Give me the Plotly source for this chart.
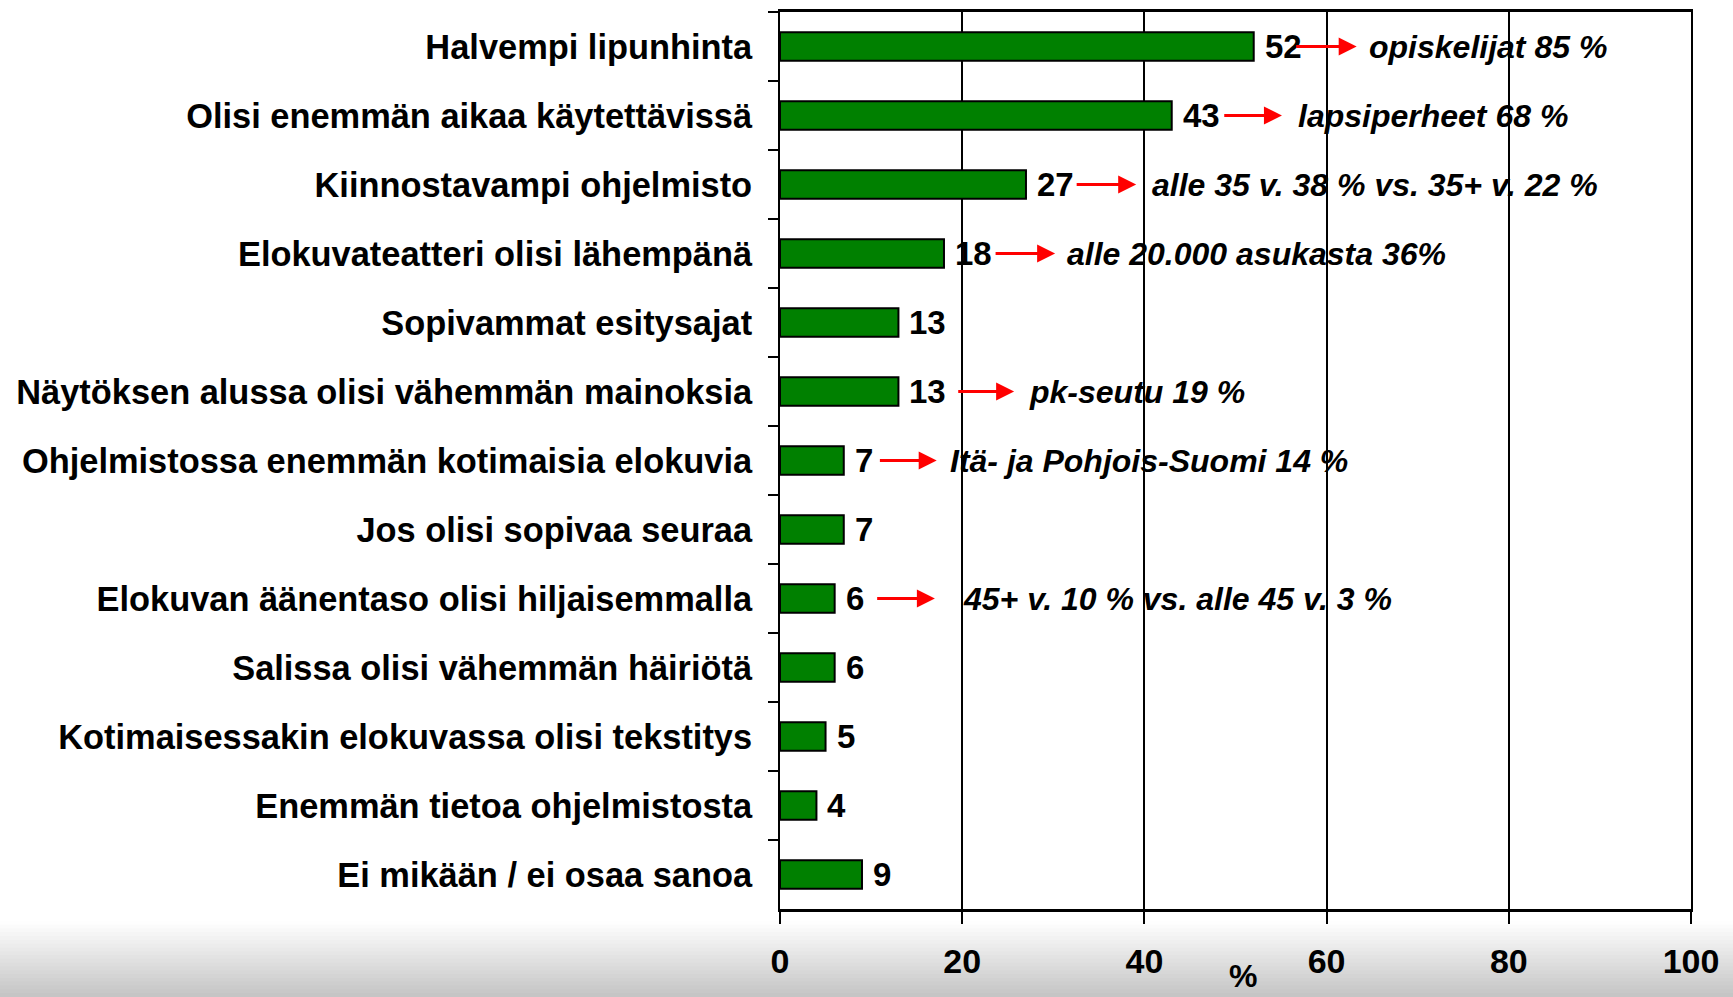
import plotly.graph_objects as go

categories = [
    "Halvempi lipunhinta",
    "Olisi enemmän aikaa käytettävissä",
    "Kiinnostavampi ohjelmisto",
    "Elokuvateatteri olisi lähempänä",
    "Sopivammat esitysajat",
    "Näytöksen alussa olisi vähemmän mainoksia",
    "Ohjelmistossa enemmän kotimaisia elokuvia",
    "Jos olisi sopivaa seuraa",
    "Elokuvan äänentaso olisi hiljaisemmalla",
    "Salissa olisi vähemmän häiriötä",
    "Kotimaisessakin elokuvassa olisi tekstitys",
    "Enemmän tietoa ohjelmistosta",
    "Ei mikään / ei osaa sanoa",
]
values = [52, 43, 27, 18, 13, 13, 7, 7, 6, 6, 5, 4, 9]

# subgroup notes: (category index, note text)
note_rows = [0, 1, 2, 3, 5, 6, 8]
note_texts = [
    "opiskelijat 85 %",
    "lapsiperheet 68 %",
    "alle 35 v. 38 % vs. 35+ v. 22 %",
    "alle 20.000 asukasta 36%",
    "pk-seutu 19 %",
    "Itä- ja Pohjois-Suomi 14 %",
    "45+ v. 10 % vs. alle 45 v. 3 %",
]
x_ticks = [0, 20, 40, 60, 80, 100]

# layout helpers (arrow tail, arrow head, note text start) in axis units
arrow_tail = [56.5, 48.6, 32.4, 23.5, 19.4, 10.8, 10.5]
arrow_head = [63.3, 55.1, 39.1, 30.2, 25.7, 17.2, 17.0]
note_start = [64.4, 56.6, 40.6, 31.3, 27.1, 18.4, 19.9]

FONT = "Liberation Sans, Arial, sans-serif"

fig = go.Figure()
fig.add_trace(go.Bar(
    x=values, y=categories, orientation="h",
    marker=dict(color="#008000", line=dict(color="#000000", width=2)),
    width=0.41, hoverinfo="x+y",
))

annotations = []
for c, v in zip(categories, values):
    annotations.append(dict(
        x=v, y=c, xref="x", yref="y", text=str(v), showarrow=False,
        xanchor="left", yanchor="middle", xshift=9,
        font=dict(family=FONT, size=33, color="#000000", weight="bold"),
    ))
for r, t, a0, a1, s in zip(note_rows, note_texts, arrow_tail, arrow_head, note_start):
    annotations.append(dict(
        x=a1, y=categories[r], ax=a0, ay=categories[r], xref="x", yref="y",
        axref="x", ayref="y", text="", showarrow=True,
        arrowhead=2, arrowsize=1.2, arrowwidth=3, arrowcolor="#ff0000",
        standoff=0, startstandoff=0,
    ))
    annotations.append(dict(
        x=s, y=categories[r], xref="x", yref="y", text=t, showarrow=False,
        xanchor="left", yanchor="middle",
        font=dict(family=FONT, size=32, color="#000000", weight="bold", style="italic"),
    ))
annotations.append(dict(
    x=50.8, y=-0.075, xref="x", yref="paper", text="%", showarrow=False,
    xanchor="center", yanchor="middle",
    font=dict(family=FONT, size=32, color="#000000", weight="bold"),
))

# slide background gradient at the bottom
shapes = []
n = 20
y_top_px, y_bot_px = 921, 997
for i in range(n):
    y0 = y_top_px + (y_bot_px - y_top_px) * i / n
    y1 = y_top_px + (y_bot_px - y_top_px) * (i + 1) / n + 1
    g = int(round(255 - (255 - 196) * ((i + 0.5) / n)))
    shapes.append(dict(
        type="rect", xref="paper", yref="paper",
        x0=-780 / 911, x1=(1733 - 780) / 911,
        y0=-(y0 - 909) / 900, y1=-(y1 - 909) / 900,
        fillcolor=f"rgb({g},{g},{g})", line=dict(width=0), layer="below",
    ))

fig.update_layout(
    width=1733, height=997,
    margin=dict(l=780, r=42, t=9, b=88),
    paper_bgcolor="#ffffff", plot_bgcolor="#ffffff",
    showlegend=False, bargap=0.59,
    annotations=annotations, shapes=shapes,
    font=dict(family=FONT, color="#000000"),
)
fig.update_xaxes(
    range=[0, 100], tickvals=x_ticks, ticktext=[str(t) for t in x_ticks],
    showgrid=True, gridcolor="#000000", gridwidth=1.5,
    showline=True, linecolor="#000000", linewidth=2.5, mirror=True,
    ticks="outside", ticklen=12, tickwidth=2, tickcolor="#000000",
    tickfont=dict(family=FONT, size=34, color="#000000", weight="bold"),
    ticklabelstandoff=8, zeroline=False, fixedrange=True,
)
fig.update_yaxes(
    type="category", range=[12.5, -0.5], categoryorder="array", categoryarray=categories,
    showline=True, linecolor="#000000", linewidth=2, mirror=True,
    ticks="outside", tickson="boundaries", ticklen=10, tickwidth=2, tickcolor="#000000",
    tickfont=dict(family=FONT, size=34.4, color="#000000", weight="bold"),
    ticklabelstandoff=19, showgrid=False, fixedrange=True,
)

fig.write_html(
    "out.html",
    config={"displayModeBar": False},
    post_script="document.body.style.margin='0';document.body.style.overflow='hidden';",
)
